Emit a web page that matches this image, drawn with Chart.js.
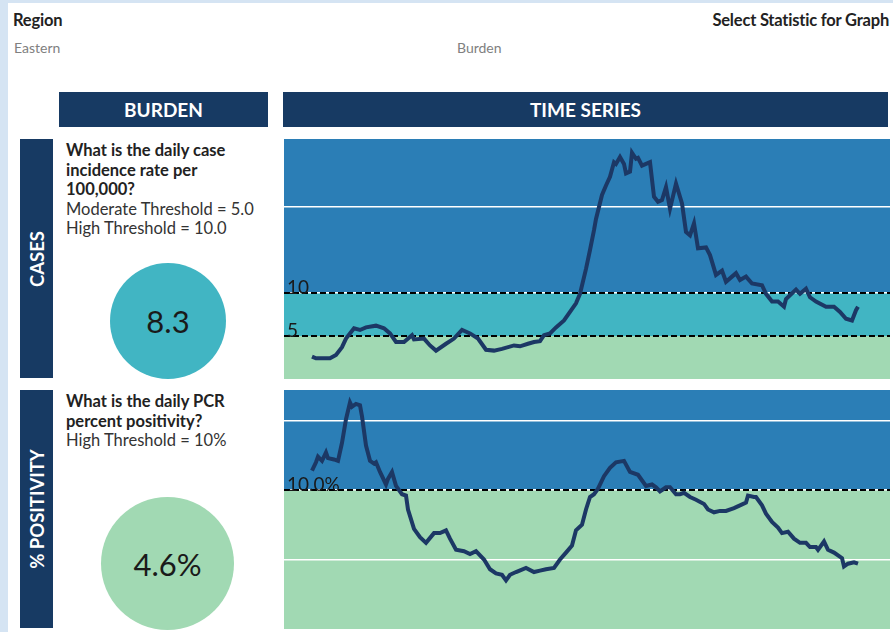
<!DOCTYPE html>
<html>
<head>
<meta charset="utf-8">
<script src="https://cdn.jsdelivr.net/npm/chart.js@4.4.0/dist/chart.umd.min.js"></script>
<style>
  body { margin: 0; width: 893px; height: 632px; background: #d5e4f3; font-family: Lato, "Open Sans", sans-serif; overflow: hidden; }
  .abs { position: absolute; }
  #page { left: 8px; top: 3px; right: 0; bottom: 0; background: #fff; }
  .title { font-weight: bold; font-size: 16.5px; color: #222; letter-spacing: -0.2px; }
  .sub { font-size: 14px; color: #808080; }
  .head { background: #173a63; color: #fff; font-weight: bold; font-size: 19px; display: flex; align-items: center; justify-content: center; }
  .side { background: #173a63; }
  .side span { position: absolute; left: 50%; top: 50%; transform: translate(-50%, -50%) rotate(-90deg); color: #fff; font-weight: bold; font-size: 18.5px; white-space: nowrap; }
  .question { font-size: 16.5px; line-height: 19.6px; color: #333; }
  .question b { color: #222; }
  .gauge { border-radius: 50%; display: flex; align-items: center; justify-content: center; font-size: 31px; color: #1a1a1a; }
</style>
</head>
<body>
<div id="page" class="abs"></div>
<div class="abs title" style="left:13px;top:10px">Region</div>
<div class="abs sub" style="left:14px;top:39px">Eastern</div>
<div class="abs title" style="right:4px;top:10px">Select Statistic for Graph</div>
<div class="abs sub" style="left:457px;top:39px">Burden</div>

<div class="abs head" style="left:59px;top:92px;width:209px;height:35px">BURDEN</div>
<div class="abs head" style="left:283px;top:92px;width:605px;height:35px">TIME SERIES</div>

<div class="abs side" style="left:20px;top:139px;width:33px;height:239px"><span>CASES</span></div>
<div class="abs side" style="left:20px;top:390px;width:33px;height:238px"><span>% POSITIVITY</span></div>

<div class="abs question" style="left:66px;top:141px">
  <b>What is the daily case<br>incidence rate per<br>100,000?</b><br>Moderate Threshold = 5.0<br>High Threshold = 10.0
</div>
<div class="abs question" style="left:66px;top:392px">
  <b>What is the daily PCR<br>percent positivity?</b><br>High Threshold = 10%
</div>

<div id="caseGauge" class="abs gauge" style="left:110px;top:263px;width:116px;height:116px"></div>
<div id="posGauge" class="abs gauge" style="left:101px;top:497px;width:133px;height:133px"></div>

<canvas id="caseChart" class="abs" width="606" height="240" style="left:284px;top:139px"></canvas>
<canvas id="posChart" class="abs" width="606" height="239" style="left:284px;top:390px"></canvas>

<script>
// day index along the time series
const caseDays = [0, 2, 9, 12, 15, 17, 21, 24, 27, 32, 36, 39, 42, 46, 50, 51, 56, 59, 62, 67, 71, 75, 79, 83, 87, 91, 95, 101, 104, 108, 111, 114, 116, 119, 122, 126, 129, 132, 134, 137, 139, 141, 142, 145, 147, 149, 151, 152, 154, 156, 157, 159, 160, 162, 163, 165, 167, 169, 171, 173, 175, 177, 179, 182, 185, 187, 189, 191, 193, 197, 199, 202, 205, 207, 210, 212, 214, 217, 220, 225, 227, 230, 233, 236, 237, 242, 244, 247, 249, 252, 257, 261, 264, 267, 270, 272, 273];
const caseRates = [2.6, 2.4, 2.4, 2.8, 3.7, 4.7, 5.9, 5.7, 6.0, 6.2, 5.9, 5.3, 4.3, 4.3, 5.1, 4.6, 4.7, 3.9, 3.3, 4.1, 4.7, 5.7, 5.3, 4.7, 3.4, 3.3, 3.5, 3.9, 3.8, 4.1, 4.3, 4.4, 5.1, 5.3, 6.0, 6.8, 7.8, 8.8, 9.9, 12.8, 15.0, 17.3, 18.6, 21.4, 22.5, 23.5, 25.2, 25.0, 25.8, 25.0, 23.9, 24.1, 26.3, 25.6, 25.7, 24.8, 25.0, 25.2, 21.2, 20.6, 20.8, 22.3, 19.8, 22.7, 20.4, 17.1, 16.7, 18.1, 15.2, 15.3, 14.4, 12.1, 12.6, 11.3, 11.9, 12.3, 11.5, 11.9, 11.1, 10.9, 9.9, 9.0, 9.0, 8.4, 9.3, 10.4, 9.9, 10.5, 9.5, 9.0, 8.4, 8.4, 7.8, 7.0, 6.8, 8.0, 8.4];

const posDays = [0, 2, 3, 5, 7, 8, 11, 13, 15, 17, 19, 20, 22, 24, 25, 27, 29, 31, 32, 34, 37, 38, 40, 42, 45, 47, 48, 51, 54, 57, 61, 64, 67, 69, 72, 76, 79, 82, 86, 89, 92, 95, 97, 99, 102, 107, 111, 114, 117, 121, 124, 127, 130, 132, 135, 137, 139, 141, 143, 146, 149, 152, 156, 159, 163, 167, 170, 172, 174, 177, 179, 182, 184, 186, 189, 192, 196, 198, 201, 204, 207, 211, 214, 217, 218, 221, 222, 225, 227, 230, 233, 235, 238, 241, 244, 247, 249, 252, 253, 256, 258, 261, 265, 266, 268, 271, 273];
const posRates = [11.4, 12.0, 12.4, 12.1, 12.7, 12.3, 12.2, 12.1, 13.4, 15.1, 16.3, 16.0, 16.2, 16.1, 15.3, 13.2, 12.1, 11.9, 12.0, 11.3, 10.4, 10.8, 11.3, 10.3, 9.7, 9.6, 8.6, 7.2, 6.6, 6.2, 6.9, 6.9, 7.1, 6.5, 5.7, 5.6, 5.4, 5.6, 5.0, 4.3, 4.0, 3.9, 3.5, 3.9, 4.1, 4.4, 4.1, 4.2, 4.3, 4.4, 5.0, 5.5, 6.0, 7.1, 7.5, 8.6, 9.5, 9.7, 10.1, 11.0, 11.6, 12.0, 12.1, 11.3, 11.1, 10.3, 10.4, 10.2, 9.9, 10.2, 10.2, 9.7, 9.7, 9.8, 9.5, 9.3, 9.0, 8.6, 8.4, 8.5, 8.5, 8.7, 8.9, 9.1, 9.6, 9.5, 9.5, 8.9, 8.3, 7.7, 7.3, 6.9, 7.0, 6.5, 6.2, 6.2, 5.9, 5.9, 5.7, 6.3, 5.7, 5.5, 5.1, 4.5, 4.7, 4.8, 4.7];

const caseThresholds = [5, 10];
const caseThresholdLabels = ["5", "10"];
const posThresholds = [10];
const posThresholdLabels = ["10.0%"];

const caseGaugeValue = 8.3;
const posGaugeValue = 4.6;

const GREEN = "#a1d9b3";
const TEAL = "#41b5c3";
const BLUE = "#2b7eb6";
const LINE = "#1c3865";

const bandsPlugin = {
  id: "bands",
  beforeDraw(chart, args, opts) {
    const { ctx, chartArea: a, scales: { y } } = chart;
    const edges = [y.min, ...opts.thresholds, y.max];
    ctx.save();
    for (let i = 0; i < edges.length - 1; i++) {
      const top = y.getPixelForValue(edges[i + 1]);
      const bottom = y.getPixelForValue(edges[i]);
      ctx.fillStyle = opts.colors[i];
      ctx.fillRect(a.left, top, a.right - a.left, bottom - top);
    }
    ctx.restore();
  },
  afterDatasetsDraw(chart, args, opts) {
    const { ctx, chartArea: a, scales: { y } } = chart;
    ctx.save();
    ctx.font = "19px Lato, sans-serif";
    ctx.fillStyle = "#1a1a1a";
    ctx.textBaseline = "alphabetic";
    opts.thresholds.forEach((t, i) => {
      ctx.fillText(opts.labels[i], a.left + 3, y.getPixelForValue(t) + 1);
    });
    ctx.restore();
  }
};

function makeChart(id, days, values, thresholds, labels, colors, yMax, step) {
  const xMin = -14, xMax = 289;
  const datasets = [{
    data: days.map((d, i) => ({ x: d, y: values[i] })),
    borderColor: LINE,
    borderWidth: 4,
    pointRadius: 0,
    tension: 0,
    order: 0
  }];
  thresholds.forEach(t => {
    datasets.push({
      data: [{ x: xMin, y: t }, { x: xMax, y: t }],
      borderColor: "#000",
      borderWidth: 2,
      borderDash: [6, 3],
      pointRadius: 0,
      order: 1
    });
  });

  return new Chart(document.getElementById(id), {
    type: "line",
    data: { datasets },
    plugins: [bandsPlugin],
    options: {
      responsive: false,
      animation: false,
      devicePixelRatio: 1,
      layout: { padding: 0 },
      plugins: {
        legend: { display: false },
        tooltip: { enabled: false },
        bands: { thresholds, labels, colors }
      },
      scales: {
        x: { type: "linear", min: xMin, max: xMax, display: false },
        y: {
          min: 0,
          max: yMax,
          ticks: { display: false, stepSize: step },
          border: { display: false },
          grid: {
            drawTicks: false,
            lineWidth: 1.5,
            color: c => (c.tick.value === 0 || c.tick.value % step !== 0) ? "rgba(0,0,0,0)" : "#ffffff"
          },
          afterFit: s => { s.width = 0; }
        }
      }
    }
  });
}

function gaugeColor(value, thresholds, colors) {
  let i = 0;
  while (i < thresholds.length && value >= thresholds[i]) i++;
  return colors[i];
}

makeChart("caseChart", caseDays, caseRates, caseThresholds, caseThresholdLabels, [GREEN, TEAL, BLUE], 27.9, 10);
makeChart("posChart", posDays, posRates, posThresholds, posThresholdLabels, [GREEN, BLUE], 17.2, 5);

caseGauge.innerText = caseGaugeValue.toFixed(1);
caseGauge.style.background = gaugeColor(caseGaugeValue, caseThresholds, [GREEN, TEAL, BLUE]);
posGauge.innerText = posGaugeValue.toFixed(1) + "%";
posGauge.style.background = gaugeColor(posGaugeValue, posThresholds, [GREEN, BLUE]);
</script>
</body>
</html>
